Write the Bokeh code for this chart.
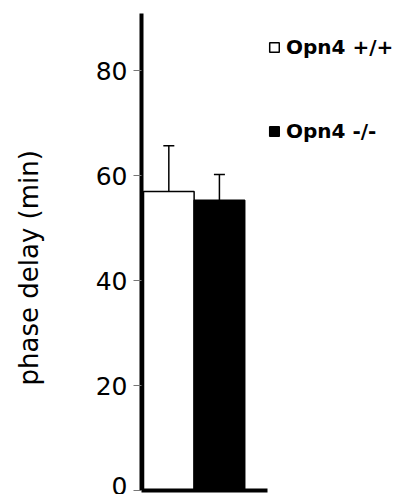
import math
from bokeh.plotting import figure
from bokeh.models import (Range1d, FixedTicker, ColumnDataSource, Whisker, TeeHead,
                          Legend, LegendItem, Title)
from bokeh.embed import file_html
from bokeh.resources import INLINE

genotypes = ["Opn4 +/+", "Opn4 -/-"]
positions = [0.5, 1.5]
phase_delay = [57.0, 55.3]
sem = [8.7, 4.9]
fill_colors = ["white", "black"]
y_ticks = [0, 20, 40, 60, 80]
y_label = "phase delay (min)"

x_start, x_axis_end, x_end = -0.04, 2.45, 4.98

p = figure(width=395, height=494, output_backend="svg", toolbar_location=None,
           x_range=Range1d(x_start, x_end), y_range=Range1d(0, 90.9),
           min_border_left=141, min_border_right=0, min_border_top=13,
           min_border_bottom=4)
p.outline_line_color = None
p.grid.visible = False
p.background_fill_color = "white"
p.border_fill_color = "white"

renderers = []
for i in range(len(genotypes)):
    src = ColumnDataSource(dict(x=[positions[i]], top=[phase_delay[i]],
                                upper=[phase_delay[i] + sem[i]]))
    r = p.vbar(x="x", top="top", bottom=0, width=1.0, source=src,
               fill_color=fill_colors[i], line_color="black", line_width=1.5)
    renderers.append(r)
    w = Whisker(base="x", lower="top", upper="upper", source=src,
                line_color="black", line_width=1.5, lower_head=None,
                upper_head=TeeHead(size=11, line_color="black", line_width=1.5),
                level="overlay")
    p.add_layout(w)

# y axis
ya = p.yaxis[0]
ya.ticker = FixedTicker(ticks=y_ticks)
ya.axis_line_width = 4
ya.axis_line_color = "black"
ya.major_tick_out = 8
ya.major_tick_in = 0
ya.major_tick_line_color = "#777777"
ya.major_tick_line_width = 1
ya.minor_tick_out = 0
ya.minor_tick_in = 0
ya.major_label_text_font = "DejaVu Sans"
ya.major_label_text_font_size = "25px"
ya.major_label_text_color = "black"
ya.major_label_standoff = 6
# blank axis label used only as a spacer between tick labels and the title
ya.axis_label = " "
ya.axis_label_text_font_size = "1px"
ya.axis_label_standoff = 40

# x axis: baseline only, limited to the bar region
xa = p.xaxis[0]
xa.ticker = FixedTicker(ticks=[])
xa.bounds = (x_start, x_axis_end)
xa.axis_line_width = 4
xa.axis_line_color = "black"
xa.major_tick_out = 0
xa.major_tick_in = 0
xa.minor_tick_out = 0
xa.minor_tick_in = 0
xa.major_label_text_font_size = "0px"
xa.major_label_standoff = 0

ylab = Title(text=y_label, align="left", offset=105, standoff=10,
             text_font="DejaVu Sans", text_font_size="26px",
             text_font_style="normal", text_color="black")
p.add_layout(ylab, "left")

legend = Legend(items=[LegendItem(label=genotypes[i], renderers=[renderers[i]])
                       for i in range(len(genotypes))],
                location=(127, 347), orientation="vertical",
                glyph_width=12, glyph_height=12, label_standoff=6,
                spacing=60, padding=0, margin=0,
                label_text_font="DejaVu Sans", label_text_font_style="bold",
                label_text_font_size="20px", label_text_color="black",
                border_line_color=None, background_fill_alpha=0)
p.add_layout(legend)

open("out.html", "w").write(file_html(p, INLINE))
